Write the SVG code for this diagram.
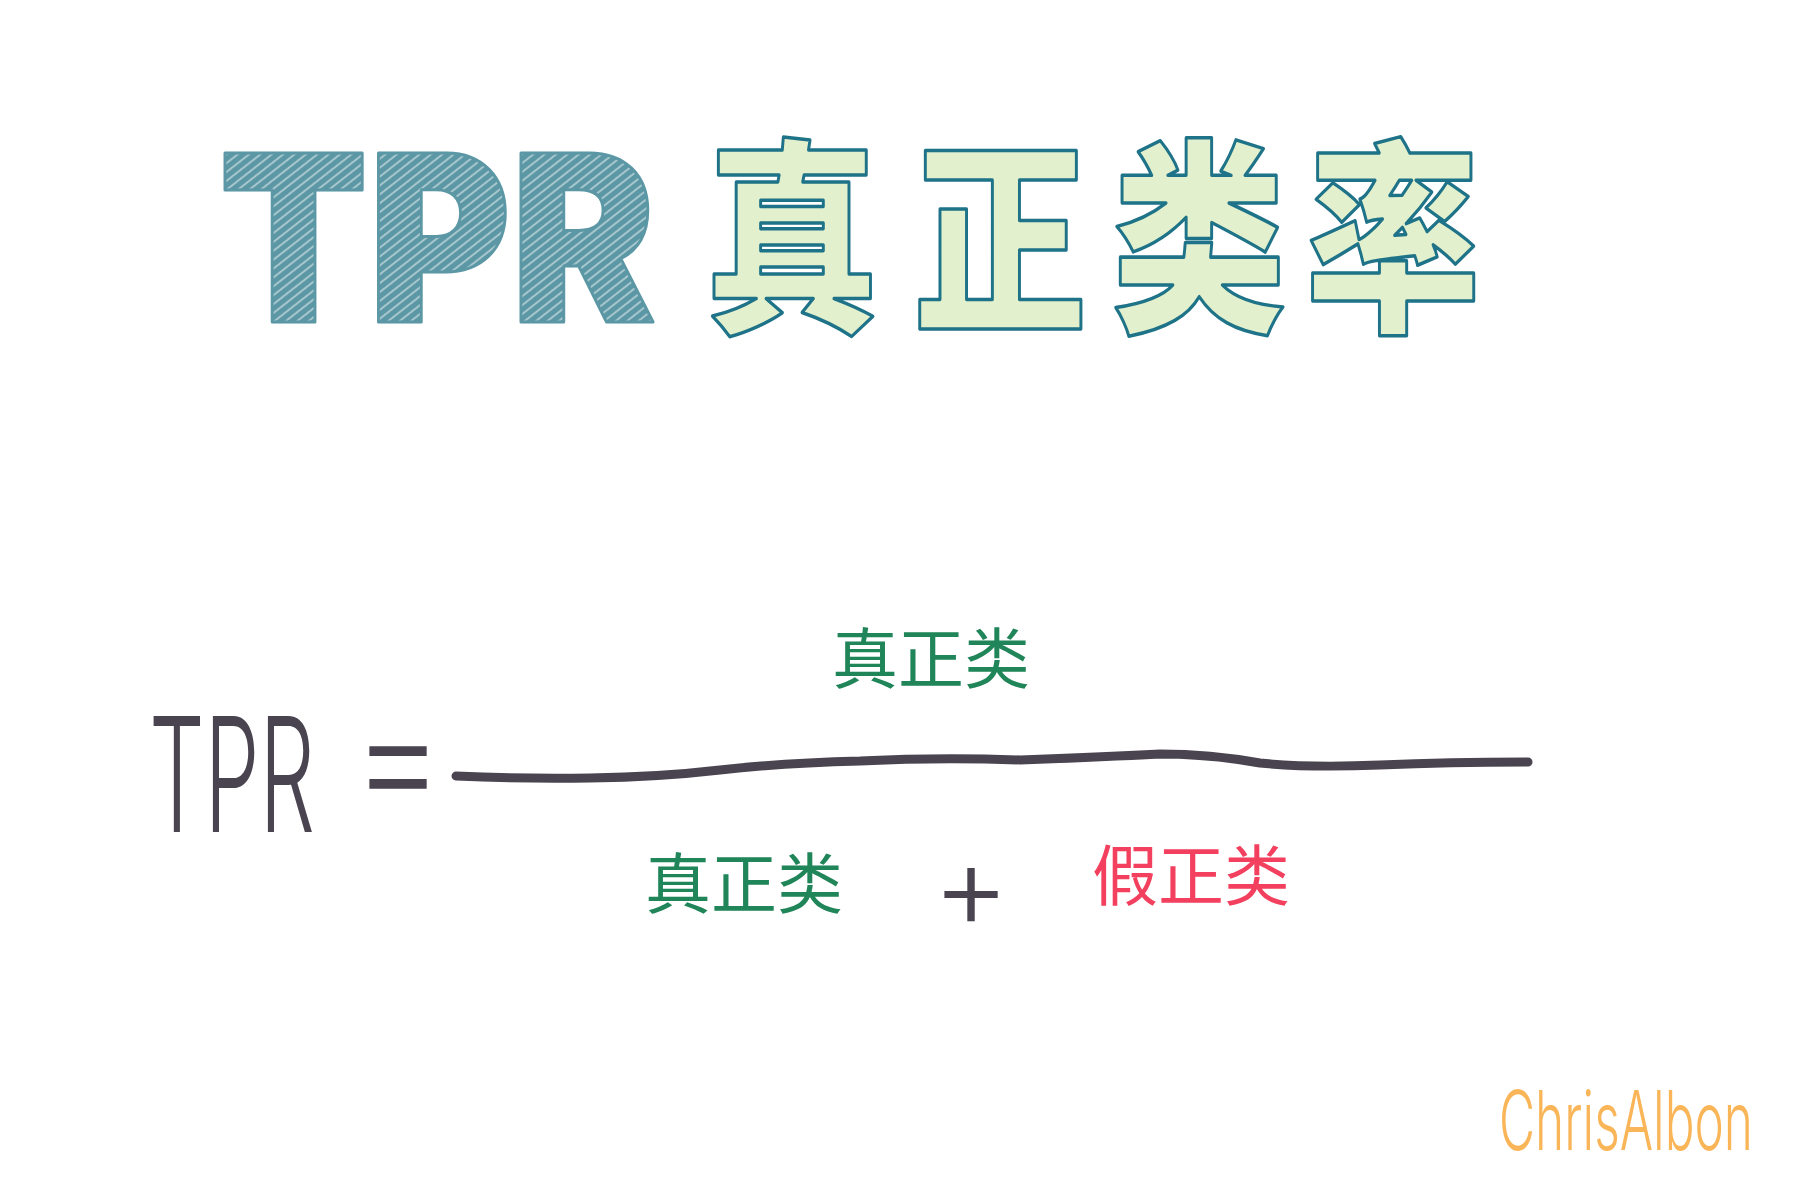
<svg xmlns="http://www.w3.org/2000/svg" width="1801" height="1201" viewBox="0 0 1801 1201">
<defs>
<pattern id="hatch" width="7" height="7" patternUnits="userSpaceOnUse" patternTransform="rotate(-38)">
<rect width="7" height="7" fill="#5b97a4"/>
<line x1="0" y1="2" x2="7" y2="2" stroke="#ffffff" stroke-width="1.3" stroke-opacity="0.7"/>
</pattern>
<style>
.title-en{font-family:Inter,"DejaVu Sans",sans-serif;font-weight:900;font-size:232px;fill:url(#hatch);stroke:#5b97a4;stroke-width:3;stroke-linejoin:round}
.title-cn{font-family:"Noto Sans CJK SC",sans-serif;font-weight:900;font-size:208px;fill:#e2f0cd;stroke:#1f7388;stroke-width:3.5;stroke-linejoin:round;text-anchor:middle}
.hand{font-family:Inter,"DejaVu Sans",sans-serif;font-weight:350;fill:#4a4450}
.cn{font-family:"Noto Sans CJK SC",sans-serif;font-weight:400;font-size:66px;text-anchor:middle}
.green{fill:#21855a}
.red{fill:#f2405e}
.sig{font-family:Inter,"DejaVu Sans",sans-serif;font-weight:350;font-size:82px;fill:#f9b558}
</style>
</defs>
<rect width="1801" height="1201" fill="#ffffff"/>
<g id="title">
<text class="title-en" x="219" y="322" textLength="437" lengthAdjust="spacingAndGlyphs">TPR</text>
<text class="title-cn" transform="translate(792,316) scale(0.84,1)">真</text>
<text class="title-cn" transform="translate(1000,316) scale(0.84,1)">正</text>
<text class="title-cn" transform="translate(1199,316) scale(0.84,1)">类</text>
<text class="title-cn" transform="translate(1393,316) scale(0.84,1)">率</text>
</g>
<g id="lhs">
<text class="hand" x="149" y="832" font-size="160" textLength="166" lengthAdjust="spacingAndGlyphs">TPR</text>
<text class="hand" x="352" y="813" font-size="160" textLength="92" lengthAdjust="spacingAndGlyphs">=</text>
</g>
<g id="connectors">
<path d="M456 776 Q520 779 590 778 T720 770 T860 761 Q940 757 1020 760 Q1100 757 1160 754 Q1210 754 1260 763 Q1310 768 1380 765 T1528 762" fill="none" stroke="#4a4450" stroke-width="9" stroke-linecap="round" stroke-linejoin="round"/>
</g>
<g id="numerator">
<text class="cn green" x="931" y="683">真正类</text>
</g>
<g id="denominator">
<text class="cn green" x="744" y="908">真正类</text>
<text class="hand" x="971" y="928" font-size="118" text-anchor="middle">+</text>
<text class="cn red" x="1191" y="900">假正类</text>
</g>
<g id="signature">
<text class="sig" x="1499" y="1150" textLength="254" lengthAdjust="spacingAndGlyphs">ChrisAlbon</text>
</g>
</svg>
